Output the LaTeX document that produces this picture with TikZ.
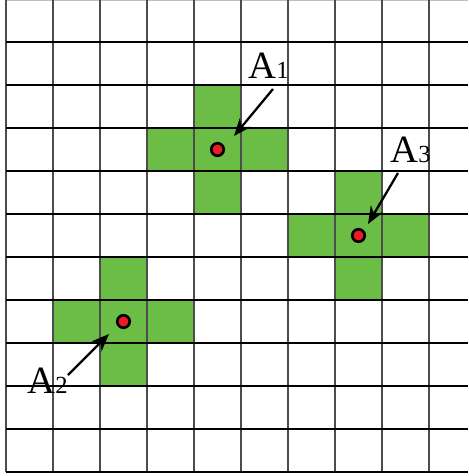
\documentclass[tikz,border=0pt]{standalone}
\usepackage{fontspec}
\setmainfont{Liberation Serif}
\usetikzlibrary{arrows.meta}
\definecolor{cellgreen}{RGB}{108,189,69}
\definecolor{dotred}{RGB}{237,28,36}

\begin{document}
\begin{tikzpicture}[x=0.02cm,y=-0.02cm,>={Stealth[length=10pt,width=8pt]},
  vline/.style={black!70,line width=0.9pt},
  hline/.style={black,line width=0.8pt},
  dot/.style={circle,draw,fill=dotred,line width=1.5pt,inner sep=0pt,minimum size=0.25cm},
  lbl/.style={anchor=base west,inner sep=0pt,font=\fontsize{22}{24}\selectfont},
  pointer/.style={->,line width=1.3pt}]
  \useasboundingbox (0,0) rectangle (468,476);

  % 十字形区域
  \foreach \cx/\cy in {194/128,335/214,100/300} {
    \fill[cellgreen] (\cx-47,\cy) rectangle (\cx+94,\cy+43);
    \fill[cellgreen] (\cx,\cy-43) rectangle (\cx+47,\cy+86);
  }

  % 网格
  \draw[black!25,line width=0.6pt] (6,0.5) -- (468,0.5);
  \foreach \gx in {6,53,...,429} \draw[vline] (\gx,0) -- (\gx,472);
  \foreach \gy in {42,85,...,472} \draw[hline] (6,\gy) -- (468,\gy);

  % 中心点
  \node[dot] (p1) at (217.5,149.5) {};
  \node[dot] (p3) at (358.5,235.5) {};
  \node[dot] (p2) at (123.5,321.5) {};

  % 标注
  \node[lbl] (a1) at (248,79) {A{\fontsize{14}{16}\selectfont 1}};
  \node[lbl] (a3) at (390,163) {A{\fontsize{14}{16}\selectfont 3}};
  \node[lbl] (a2) at (27,393) {A{\fontsize{14}{16}\selectfont 2}};

  \coordinate (t1) at (273,89);
  \coordinate (h1) at (234,136);
  \coordinate (t3) at (398,173);
  \coordinate (h3) at (368,224);
  \coordinate (t2) at (68,375);
  \coordinate (h2) at (109,334);

  % 箭头
  \draw[pointer] (t1) -- (h1);
  \draw[pointer] (t3) -- (h3);
  \draw[pointer] (t2) -- (h2);
\end{tikzpicture}
\end{document}
